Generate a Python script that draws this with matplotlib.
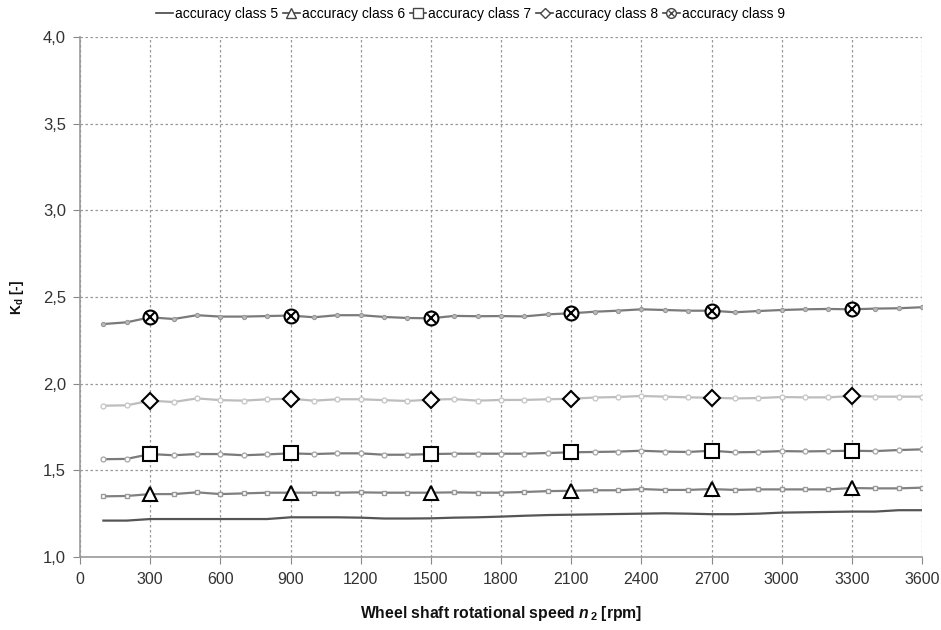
import matplotlib
matplotlib.use("Agg")
import matplotlib.pyplot as plt
from matplotlib.lines import Line2D
from matplotlib.legend_handler import HandlerTuple

plt.rcParams['font.family'] = ['Liberation Sans', 'DejaVu Sans']
plt.rcParams['mathtext.fontset'] = 'custom'
plt.rcParams['mathtext.rm'] = 'Liberation Sans:bold'
plt.rcParams['mathtext.it'] = 'Liberation Sans:bold:italic'
plt.rcParams['mathtext.bf'] = 'Liberation Sans:bold'

rpm = list(range(100, 3700, 100))

class5 = [1.210, 1.210, 1.219, 1.219, 1.219, 1.219, 1.219, 1.219, 1.229, 1.229,
          1.229, 1.227, 1.222, 1.222, 1.223, 1.227, 1.229, 1.233, 1.238, 1.242,
          1.244, 1.246, 1.248, 1.250, 1.252, 1.250, 1.247, 1.247, 1.250, 1.256,
          1.258, 1.260, 1.262, 1.262, 1.270, 1.270]
class6 = [1.350, 1.352, 1.363, 1.363, 1.373, 1.363, 1.367, 1.371, 1.371, 1.371,
          1.371, 1.373, 1.371, 1.371, 1.371, 1.373, 1.371, 1.371, 1.375, 1.380,
          1.382, 1.385, 1.385, 1.392, 1.387, 1.387, 1.392, 1.387, 1.390, 1.390,
          1.390, 1.390, 1.398, 1.396, 1.396, 1.400]
class7 = [1.564, 1.566, 1.594, 1.587, 1.594, 1.594, 1.587, 1.592, 1.598, 1.594,
          1.598, 1.598, 1.590, 1.590, 1.594, 1.596, 1.596, 1.596, 1.596, 1.600,
          1.604, 1.606, 1.608, 1.613, 1.608, 1.606, 1.613, 1.604, 1.606, 1.611,
          1.609, 1.611, 1.613, 1.611, 1.617, 1.621]
class8 = [1.873, 1.875, 1.902, 1.894, 1.915, 1.905, 1.902, 1.910, 1.913, 1.902,
          1.910, 1.910, 1.905, 1.900, 1.908, 1.911, 1.902, 1.906, 1.906, 1.910,
          1.913, 1.920, 1.923, 1.929, 1.925, 1.921, 1.919, 1.915, 1.917, 1.923,
          1.921, 1.921, 1.929, 1.925, 1.925, 1.925]
class9 = [2.344, 2.354, 2.383, 2.373, 2.395, 2.387, 2.387, 2.390, 2.393, 2.383,
          2.395, 2.395, 2.385, 2.379, 2.377, 2.391, 2.389, 2.390, 2.388, 2.400,
          2.406, 2.415, 2.421, 2.429, 2.425, 2.421, 2.421, 2.412, 2.419, 2.425,
          2.429, 2.431, 2.429, 2.433, 2.435, 2.441]

labels = ['accuracy class 5', 'accuracy class 6', 'accuracy class 7',
          'accuracy class 8', 'accuracy class 9']
xticks = [0, 300, 600, 900, 1200, 1500, 1800, 2100, 2400, 2700, 3000, 3300, 3600]
yticks = [1.0, 1.5, 2.0, 2.5, 3.0, 3.5, 4.0]
yticklabels = ['1,0', '1,5', '2,0', '2,5', '3,0', '3,5', '4,0']

fig = plt.figure(figsize=(9.41, 6.30), dpi=100)
ax = fig.add_axes([80/941, 1-557/630, (922-80)/941, (557-37)/630])

big = slice(2, None, 6)
big_kw = dict(ls='none', ms=10, mfc='white', mec='black', mew=1.5)

# class 5
ax.plot(rpm, class5, color='#555555', lw=1.6)
# class 6
ax.plot(rpm, class6, color='#808080', lw=1.6, marker='s', ms=3.5,
        mfc='white', mec='#999999', mew=1)
ax.plot(rpm, class6, marker='^', markevery=big, **big_kw)
# class 7
ax.plot(rpm, class7, color='#7a7a7a', lw=1.6, marker='o', ms=3.5,
        mfc='white', mec='#aaaaaa', mew=1)
ax.plot(rpm, class7, marker='s', markevery=big, **big_kw)
# class 8
ax.plot(rpm, class8, color='#bdbdbd', lw=1.6, marker='o', ms=3.5,
        mfc='white', mec='#c8c8c8', mew=1)
ax.plot(rpm, class8, marker='D', markevery=big, ls='none', ms=8,
        mfc='white', mec='black', mew=1.5)
# class 9
ax.plot(rpm, class9, color='#7a7a7a', lw=1.6, marker='o', ms=3,
        mfc='#bbbbbb', mec='#999999', mew=0.8)
ax.plot(rpm, class9, marker='o', markevery=big, **big_kw)
ax.plot(rpm, class9, marker='x', markevery=big, ls='none', ms=7,
        mec='black', mew=1.5)

ax.set_xlim(0, 3600)
ax.set_ylim(1.0, 4.0)
ax.set_xticks(xticks)
ax.set_xticklabels([str(t) for t in xticks])
ax.set_yticks(yticks)
ax.set_yticklabels(yticklabels)
ax.tick_params(axis='both', direction='out', length=5, color='#888888',
               labelcolor='#333333', pad=6)
ax.tick_params(axis='x', labelsize=11.5)
ax.tick_params(axis='y', labelsize=12, pad=5)
ax.grid(True, ls=(0, (2, 2)), color='#999999', lw=0.9)
for s in ['top', 'right']:
    ax.spines[s].set_visible(False)
for s in ['left', 'bottom']:
    ax.spines[s].set_color('#999999')
    ax.spines[s].set_linewidth(1.2)

ax.set_xlabel(r'Wheel shaft rotational speed $n_{\,2}$ [rpm]', fontsize=11.3,
              fontweight='bold', labelpad=12, color='#111111')
ax.set_ylabel(r'K$_\mathregular{d}$ [-]', fontsize=10, fontweight='bold',
              labelpad=12, color='#111111')

# legend handles
h5 = Line2D([], [], color='#444444', lw=1.2)
h6 = Line2D([], [], color='#444444', lw=1.2, marker='^', ms=7, mfc='white', mec='#444444')
h7 = Line2D([], [], color='#444444', lw=1.2, marker='s', ms=7, mfc='white', mec='#444444')
h8 = Line2D([], [], color='#444444', lw=1.2, marker='D', ms=5.5, mfc='white', mec='#444444')
h9a = Line2D([], [], color='#444444', lw=1.2, marker='o', ms=7, mfc='white', mec='#444444')
h9b = Line2D([], [], ls='none', marker='x', ms=5, mec='#444444', mew=1)
fig.legend([h5, h6, h7, h8, (h9a, h9b)], labels,
           handler_map={tuple: HandlerTuple(ndivide=1)},
           loc='center', bbox_to_anchor=(0.5, 1-14/630), ncol=5, frameon=False,
           fontsize=10, handlelength=1.2, handletextpad=0.15, columnspacing=0.35)

fig.savefig('out.png', dpi=100)
